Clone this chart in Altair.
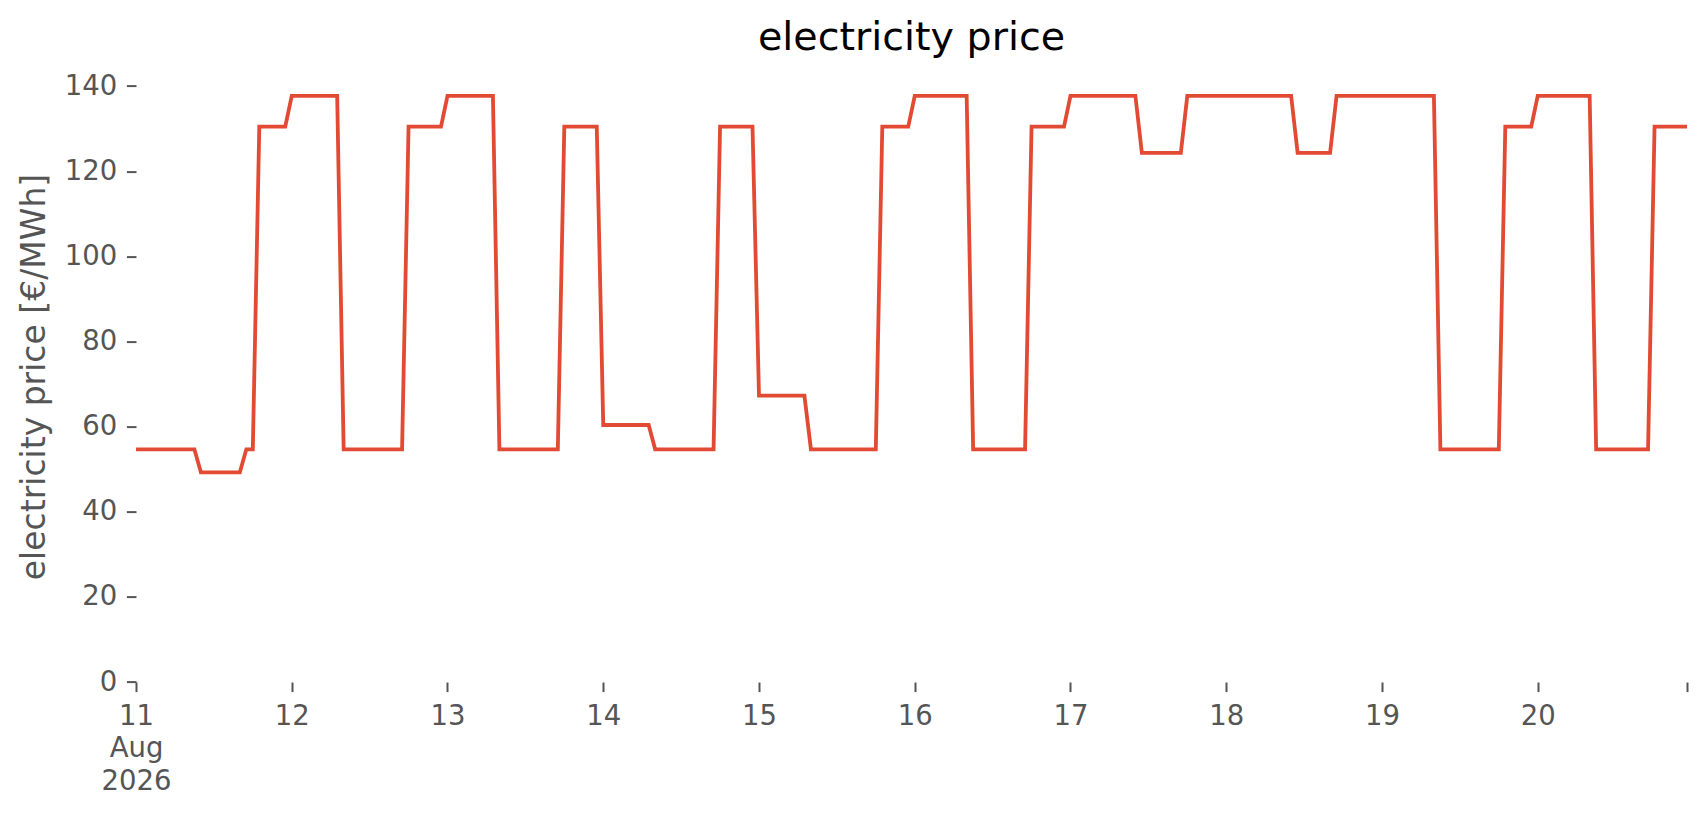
import altair as alt
import pandas as pd

# hourly electricity prices [€/MWh], one list per day (00:00 .. 23:00)
aug11 = [54.66, 54.66, 54.66, 54.66, 54.66, 54.66, 54.66, 54.66, 54.66, 54.66,
         49.26, 49.26, 49.26, 49.26, 49.26, 49.26, 49.26,
         54.66, 54.66,
         130.45, 130.45, 130.45, 130.45, 130.45]
aug12 = [137.7, 137.7, 137.7, 137.7, 137.7, 137.7, 137.7, 137.7,
         54.66, 54.66, 54.66, 54.66, 54.66, 54.66, 54.66, 54.66, 54.66, 54.66,
         130.45, 130.45, 130.45, 130.45, 130.45, 130.45]
aug13 = [137.7, 137.7, 137.7, 137.7, 137.7, 137.7, 137.7, 137.7,
         54.66, 54.66, 54.66, 54.66, 54.66, 54.66, 54.66, 54.66, 54.66, 54.66,
         130.45, 130.45, 130.45, 130.45, 130.45, 130.45]
aug14 = [60.37, 60.37, 60.37, 60.37, 60.37, 60.37, 60.37, 60.37,
         54.66, 54.66, 54.66, 54.66, 54.66, 54.66, 54.66, 54.66, 54.66, 54.66,
         130.45, 130.45, 130.45, 130.45, 130.45, 130.45]
aug15 = [67.26, 67.26, 67.26, 67.26, 67.26, 67.26, 67.26, 67.26,
         54.66, 54.66, 54.66, 54.66, 54.66, 54.66, 54.66, 54.66, 54.66, 54.66, 54.66,
         130.45, 130.45, 130.45, 130.45, 130.45]
aug16 = [137.7, 137.7, 137.7, 137.7, 137.7, 137.7, 137.7, 137.7, 137.7,
         54.66, 54.66, 54.66, 54.66, 54.66, 54.66, 54.66, 54.66, 54.66,
         130.45, 130.45, 130.45, 130.45, 130.45, 130.45]
aug17 = [137.7, 137.7, 137.7, 137.7, 137.7, 137.7, 137.7, 137.7, 137.7, 137.7, 137.7,
         124.3, 124.3, 124.3, 124.3, 124.3, 124.3, 124.3,
         137.7, 137.7, 137.7, 137.7, 137.7, 137.7]
aug18 = [137.7, 137.7, 137.7, 137.7, 137.7, 137.7, 137.7, 137.7, 137.7, 137.7, 137.7,
         124.3, 124.3, 124.3, 124.3, 124.3, 124.3,
         137.7, 137.7, 137.7, 137.7, 137.7, 137.7, 137.7]
aug19 = [137.7, 137.7, 137.7, 137.7, 137.7, 137.7, 137.7, 137.7, 137.7,
         54.66, 54.66, 54.66, 54.66, 54.66, 54.66, 54.66, 54.66, 54.66, 54.66,
         130.45, 130.45, 130.45, 130.45, 130.45]
aug20 = [137.7, 137.7, 137.7, 137.7, 137.7, 137.7, 137.7, 137.7, 137.7,
         54.66, 54.66, 54.66, 54.66, 54.66, 54.66, 54.66, 54.66, 54.66,
         130.45, 130.45, 130.45, 130.45, 130.45, 130.45]

prices = aug11 + aug12 + aug13 + aug14 + aug15 + aug16 + aug17 + aug18 + aug19 + aug20
times = pd.date_range("2026-08-11 00:00", periods=len(prices), freq="h").strftime("%Y-%m-%dT%H:%M:%S")
df = pd.DataFrame({"time": list(times), "price": prices})

y_ticks = [0, 20, 40, 60, 80, 100, 120, 140]
x_days = [11, 12, 13, 14, 15, 16, 17, 18, 19, 20]
x_ticks = [alt.DateTime(year=2026, month=8, date=d, hours=0) for d in x_days] + \
          [alt.DateTime(year=2026, month=8, date=20, hours=23)]

GRAY = "#555555"
FONT = "DejaVu Sans"

label_expr = ("hours(datum.value) != 0 ? '' : "
              "(date(datum.value) == 11 ? ['11', 'Aug', '2026'] : toString(date(datum.value)))")

chart = alt.Chart(df).mark_line(color="#E24A33", strokeWidth=3.8).encode(
    x=alt.X("time:T",
            scale=alt.Scale(domain=[alt.DateTime(year=2026, month=8, date=11, hours=0),
                                    alt.DateTime(year=2026, month=8, date=20, hours=23)],
                            nice=False),
            axis=alt.Axis(title=None, values=x_ticks, labelExpr=label_expr,
                          tickSize=9.6, tickWidth=2.0, tickColor=GRAY,
                          labelColor=GRAY, labelFontSize=27.5, labelFont=FONT,
                          labelPadding=10.7, labelBaseline="top", labelAlign="center",
                          labelLineHeight=32.5, labelOverlap=False, labelFlush=False,
                          domain=False, grid=False)),
    y=alt.Y("price:Q",
            scale=alt.Scale(domain=[0, 142.45], nice=False, zero=True),
            axis=alt.Axis(values=y_ticks, title="electricity price [€/MWh]",
                          titleFontSize=33, titleFont=FONT, titleColor=GRAY,
                          titleFontWeight="normal", titleAngle=270,
                          titleBaseline="alphabetic", titleAlign="center",
                          titleX=-92, titleY=300.9,
                          tickSize=9.6, tickWidth=2.0, tickColor=GRAY,
                          labelColor=GRAY, labelFontSize=27.5, labelFont=FONT,
                          labelPadding=9.7, labelAlign="right",
                          domain=False, grid=False)),
).properties(
    width=1551,
    height=606.4,
    background="white",
    title=alt.TitleParams("electricity price", fontSize=39.6, font=FONT,
                          fontWeight="normal", color="black", anchor="middle",
                          baseline="alphabetic", offset=20.6, dy=38.5),
    padding={"left": 128, "top": 67.6, "right": 10, "bottom": 120},
    autosize="none",
).configure_view(stroke=None, strokeWidth=0)

chart.save("out.html", embed_options={"renderer": "svg", "actions": False})
